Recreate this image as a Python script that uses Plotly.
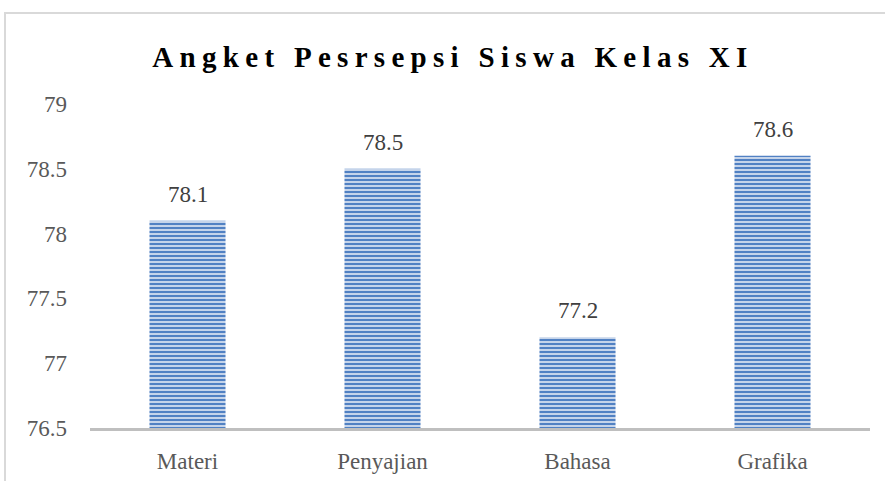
import plotly.graph_objects as go

categories = ["Materi", "Penyajian", "Bahasa", "Grafika"]
values = [78.1, 78.5, 77.2, 78.6]
y_ticks = [76.5, 77, 77.5, 78, 78.5, 79]
y_tick_labels = ["76.5", "77", "77.5", "78", "78.5", "79"]
title_text = "Angket Pesrsepsi Siswa Kelas XI"

FONT = "Liberation Serif"
W, H = 885, 481
L, R, T, B = 90, 15, 104, 53

fig = go.Figure()
fig.add_trace(go.Bar(
    x=categories, y=values, base=0,
    marker=dict(
        color="#5683C4",
        line=dict(width=0),
        pattern=dict(shape="-", fgcolor="#D3DEEF", bgcolor="#5181C3",
                     size=4, solidity=0.45, fillmode="replace"),
    ),
    hoverinfo="skip",
))

for c, v in zip(categories, values):
    fig.add_annotation(x=c, y=v, text=f"{v}", showarrow=False,
                       yanchor="bottom", yshift=12,
                       font=dict(family=FONT, size=23, color="#404040"))

pw = W - L - R
ph = H - T - B
fig.add_shape(type="rect", xref="paper", yref="paper",
              x0=(5 - L) / pw, x1=(W + 20 - L) / pw,
              y0=-(B + 30) / ph, y1=(H - B - 13) / ph,
              line=dict(color="#D9D9D9", width=2), fillcolor="rgba(0,0,0,0)",
              layer="below")

fig.update_layout(
    width=W, height=H,
    margin=dict(l=L, r=R, t=T, b=B, autoexpand=False),
    paper_bgcolor="white", plot_bgcolor="white",
    showlegend=False,
    bargap=0.61,
    title=dict(text=f"<b>{title_text}</b>", x=(453) / W, xanchor="center",
               y=1 - 57 / H, yanchor="middle", automargin=False,
               font=dict(family=FONT, size=29, color="#000000")),
    xaxis=dict(showgrid=False, showline=True, linecolor="#BFBFBF", linewidth=3,
               ticks="", ticklabelstandoff=10, automargin=False,
               tickfont=dict(family=FONT, size=23, color="#595959")),
    yaxis=dict(range=[76.5, 79], showgrid=False, zeroline=False, showline=False,
               tickvals=y_ticks, ticktext=y_tick_labels, ticks="",
               ticklabelstandoff=22, automargin=False,
               tickfont=dict(family=FONT, size=23, color="#595959")),
)

post = """
document.body.style.margin = '0';
document.body.style.overflow = 'hidden';
var t = document.querySelectorAll('.gtitle');
t.forEach(function(e){ e.style.letterSpacing = '6.3px'; });
"""
fig.write_html("out.html", post_script=post, config={"displayModeBar": False})
